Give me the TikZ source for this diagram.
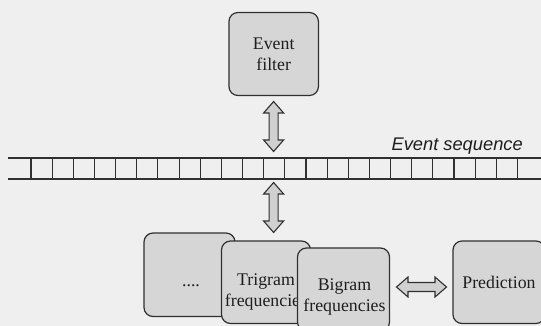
\documentclass[tikz,border=0pt]{standalone}
\usepackage{fontspec}
\setmainfont{Liberation Serif}
\newfontfamily\seqfont{Liberation Sans}
\usetikzlibrary{calc}
\definecolor{edge}{HTML}{303030}
\definecolor{boxfill}{HTML}{D6D6D6}
\definecolor{arrowfill}{HTML}{D0D0D0}
\definecolor{bg}{HTML}{EFEFEF}
\definecolor{ink}{HTML}{1E1E1E}
\begin{document}
\begin{tikzpicture}[x=1pt,y=-1pt,
  box/.style={draw=edge, fill=boxfill, line width=1.2pt, rounded corners=9pt, inner sep=0pt},
  lbl/.style={font=\fontsize{17.8}{21}\selectfont, text=ink, align=center, inner sep=0pt},
  blk/.style={draw=edge, fill=arrowfill, line width=1.1pt, line join=miter},
  seqline/.style={draw=edge, line width=1.1pt},
  vdarrow/.pic={\path[blk] (0,-25) -- (10,-13.5) -- (4.5,-13.5) -- (4.5,13.5) -- (10,13.5) -- (0,25) -- (-10,13.5) -- (-4.5,13.5) -- (-4.5,-13.5) -- (-10,-13.5) -- cycle;}]
\fill[bg] (0,0) rectangle (541,326);
\useasboundingbox (0,0) rectangle (541,326);
\clip (0,0) rectangle (541,326);

% event sequence
\coordinate (seqTL) at (8,158);
\coordinate (seqTR) at (541,158);
\coordinate (seqBL) at (8,179);
\coordinate (seqBR) at (541,179);
\draw[seqline] (seqTL) -- (seqTR);
\draw[seqline] (seqBL) -- (seqBR);
\foreach \k in {0,...,23}{
  \draw[seqline] ($(31,158)+(21.15*\k,0)$) -- ($(31,179)+(21.15*\k,0)$);
}
\node[anchor=base east, inner sep=0pt, text=ink, font=\seqfont\itshape\fontsize{18.3}{22}\selectfont] (seqlabel) at (523,150) {Event sequence};

% event filter
\node[box, minimum width=89.5pt, minimum height=83pt, lbl] (filter) at (273.7,54) {Event\\filter};

% bottom boxes
\node[box, minimum width=91pt, minimum height=83.5pt] (dots) at (189.5,274.75) {};
\node[lbl, anchor=base] (dotstxt) at (191,286) {....};
\node[box, minimum width=89pt, minimum height=82.5pt] (tri) at (266,282.25) {};
\node[lbl] (tritxt) at (266,292) {Trigram\\frequencies};
\node[box, minimum width=92pt, minimum height=83pt] (bi) at (343.5,289.5) {};
\node[lbl] (bitxt) at (344.5,297) {Bigram\\frequencies};
\node[box, minimum width=92pt, minimum height=82.5pt, lbl] (pred) at (499,282.25) {Prediction};

% block arrows
\pic at (273.6,126.5) {vdarrow};
\pic at (273.6,207.5) {vdarrow};
\pic[rotate=90] at (421.5,287) {vdarrow};
\end{tikzpicture}
\end{document}
